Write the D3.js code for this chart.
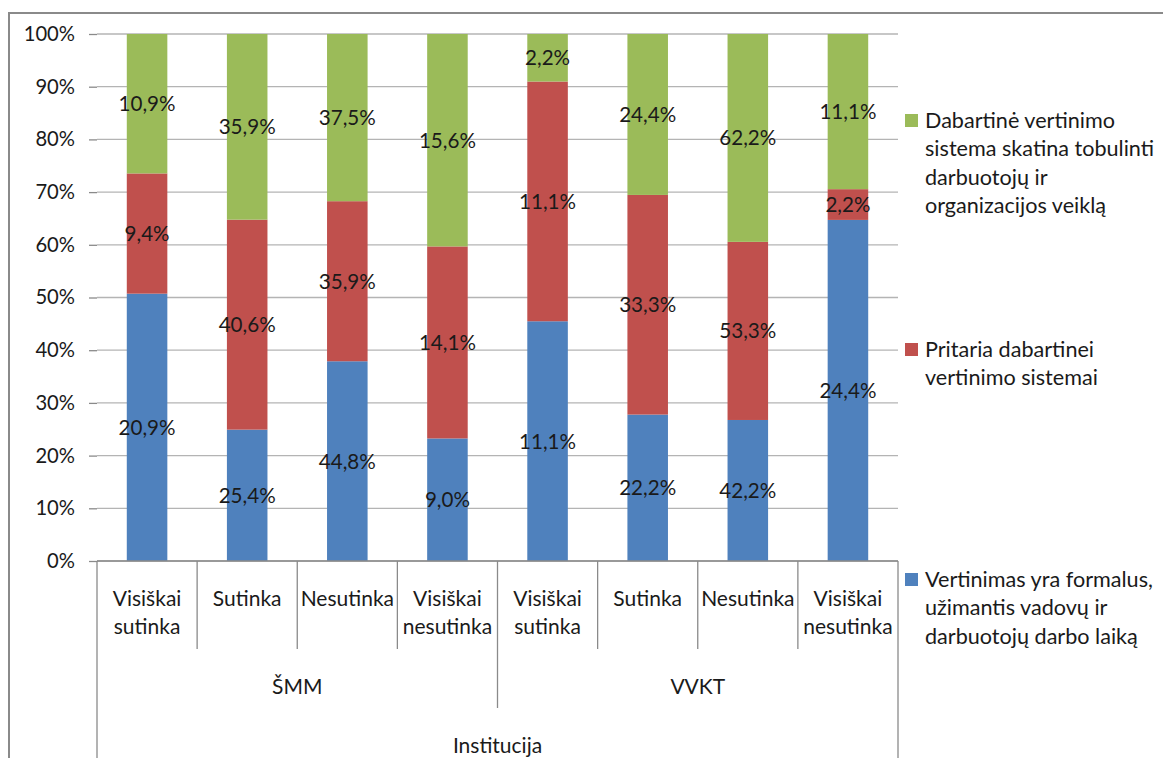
<!DOCTYPE html>
<html>
<head>
<meta charset="utf-8">
<script src="https://cdn.jsdelivr.net/npm/d3@7"></script>
<style>
  html, body { margin: 0; padding: 0; background: #fff; }
  svg { display: block; font-family: Lato, "Open Sans", sans-serif; }
</style>
</head>
<body>
<svg id="chart" width="1163" height="758"></svg>
<script>
// Answer categories (x axis, inner level) and the institution each belongs to
const categories = ["Visiškai sutinka", "Sutinka", "Nesutinka", "Visiškai nesutinka",
                    "Visiškai sutinka", "Sutinka", "Nesutinka", "Visiškai nesutinka"];
const categoryLines = [["Visiškai", "sutinka"], ["Sutinka"], ["Nesutinka"], ["Visiškai", "nesutinka"],
                       ["Visiškai", "sutinka"], ["Sutinka"], ["Nesutinka"], ["Visiškai", "nesutinka"]];
const institutions = ["ŠMM", "VVKT"];
const axisTitle = "Institucija";

// Series values (%), bottom to top in each bar
const formalus = [20.9, 25.4, 44.8, 9.0, 11.1, 22.2, 42.2, 24.4];
const pritaria = [9.4, 40.6, 35.9, 14.1, 11.1, 33.3, 53.3, 2.2];
const skatina  = [10.9, 35.9, 37.5, 15.6, 2.2, 24.4, 62.2, 11.1];

const seriesKeys = ["formalus", "pritaria", "skatina"];
const seriesColors = ["#4F81BD", "#C0504D", "#9BBB59"];
const seriesNames = [
  ["Vertinimas yra formalus,", "užimantis vadovų ir", "darbuotojų darbo laiką"],
  ["Pritaria dabartinei", "vertinimo sistemai"],
  ["Dabartinė vertinimo", "sistema skatina tobulinti", "darbuotojų ir", "organizacijos veiklą"]
];

const yTicks = [0, 0.1, 0.2, 0.3, 0.4, 0.5, 0.6, 0.7, 0.8, 0.9, 1];

// Layout
const W = 1163, H = 758;
const plot = { left: 97, right: 898, top: 34, bottom: 561 };
const textColor = "#1a1a1a";
const lineColor = "#8a8a8a";

const svg = d3.select("#chart");

// Outer frame (left and top edges visible)
svg.append("rect")
  .attr("x", 9).attr("y", 13)
  .attr("width", W + 40).attr("height", H + 40)
  .attr("fill", "none").attr("stroke", lineColor).attr("stroke-width", 2);

const rows = categories.map((c, i) => ({
  idx: i, formalus: formalus[i], pritaria: pritaria[i], skatina: skatina[i]
}));

// 100% stacked: each bar is normalised to its own total
const stacked = d3.stack().keys(seriesKeys).offset(d3.stackOffsetExpand)(rows);

const x = d3.scaleBand().domain(d3.range(categories.length))
  .range([plot.left, plot.right]).padding(0);
const y = d3.scaleLinear().domain([0, 1]).range([plot.bottom, plot.top]);

const fmtNum = d3.formatLocale({ decimal: ",", thousands: " ", grouping: [3], currency: ["", ""] }).format(".1f");
const pct = d3.format(".0%");

// Gridlines
svg.append("g").selectAll("line").data(yTicks).join("line")
  .attr("x1", plot.left).attr("x2", plot.right)
  .attr("y1", d => y(d)).attr("y2", d => y(d))
  .attr("stroke", "#b4b4b4").attr("stroke-width", 1.3);

// Y axis
const yAxis = svg.append("g")
  .attr("transform", `translate(${plot.left},0)`)
  .call(d3.axisLeft(y).tickValues(yTicks).tickFormat(pct).tickSize(8).tickPadding(14));
yAxis.select(".domain").remove();
yAxis.selectAll(".tick line").attr("stroke", lineColor).attr("stroke-width", 1.3);
yAxis.selectAll(".tick text")
  .attr("font-size", 20.2).attr("fill", textColor)
  .attr("font-family", "Lato, sans-serif");

// Bars
const barFrac = 0.405;
const bw = x.bandwidth();
svg.append("g").selectAll("g").data(stacked).join("g")
  .attr("fill", (d, i) => seriesColors[i])
  .selectAll("rect").data(d => d).join("rect")
  .attr("x", d => x(d.data.idx) + bw * (1 - barFrac) / 2)
  .attr("width", bw * barFrac)
  .attr("y", d => y(d[1]))
  .attr("height", d => y(d[0]) - y(d[1]));

// Data labels (raw percentage values, centred in each segment)
svg.append("g").selectAll("g").data(stacked).join("g")
  .selectAll("text").data(d => d.map(p => ({ p, key: d.key }))).join("text")
  .attr("x", d => x(d.p.data.idx) + bw / 2)
  .attr("y", d => (y(d.p[0]) + y(d.p[1])) / 2)
  .attr("dy", "0.36em")
  .attr("text-anchor", "middle")
  .attr("font-size", 20.6).attr("fill", textColor)
  .text(d => fmtNum(d.p.data[d.key]) + "%");

// Axis baseline
svg.append("line")
  .attr("x1", plot.left).attr("x2", plot.right)
  .attr("y1", plot.bottom).attr("y2", plot.bottom)
  .attr("stroke", lineColor).attr("stroke-width", 1.3);

// Multi-level category separators
const sepX = d3.range(categories.length + 1);
svg.append("g").selectAll("line").data(sepX).join("line")
  .attr("x1", i => i < categories.length ? x(i) : plot.right)
  .attr("x2", i => i < categories.length ? x(i) : plot.right)
  .attr("y1", plot.bottom)
  .attr("y2", i => (i === 0 || i === categories.length) ? H : (i === 4 ? 708 : 649))
  .attr("stroke", lineColor).attr("stroke-width", 1.3);

// Category labels
const catG = svg.append("g").attr("font-size", 21).attr("fill", textColor).attr("text-anchor", "middle");
catG.selectAll("text").data(categoryLines).join("text")
  .attr("x", (d, i) => x(i) + bw / 2)
  .attr("y", 606)
  .selectAll("tspan").data(d => d).join("tspan")
  .attr("x", function () { return this.parentNode.getAttribute("x"); })
  .attr("dy", (d, i) => i === 0 ? 0 : 28)
  .text(d => d);

// Institution labels
svg.append("g").selectAll("text").data(institutions).join("text")
  .attr("x", (d, i) => (x(i * 4) + (i * 4 + 4 < categories.length ? x(i * 4 + 4) : plot.right)) / 2)
  .attr("y", 694)
  .attr("text-anchor", "middle").attr("font-size", 21).attr("fill", textColor)
  .text(d => d);

// Axis title
svg.append("text")
  .attr("x", (plot.left + plot.right) / 2).attr("y", 753)
  .attr("text-anchor", "middle").attr("font-size", 21).attr("fill", textColor)
  .text(axisTitle);

// Legend (top entry = top series)
const legendTop = [128, 357, 587];
const legendOrder = [2, 1, 0];
const lg = svg.append("g");
legendOrder.forEach((s, k) => {
  const item = lg.append("g");
  item.append("rect")
    .attr("x", 905).attr("y", legendTop[k] - 14)
    .attr("width", 13).attr("height", 13)
    .attr("fill", seriesColors[s]);
  item.append("text")
    .attr("x", 925).attr("y", legendTop[k])
    .attr("font-size", 21.6).attr("fill", textColor)
    .selectAll("tspan").data(seriesNames[s]).join("tspan")
    .attr("x", 925)
    .attr("dy", (d, i) => i === 0 ? 0 : 28.3)
    .text(d => d);
});
</script>
</body>
</html>
